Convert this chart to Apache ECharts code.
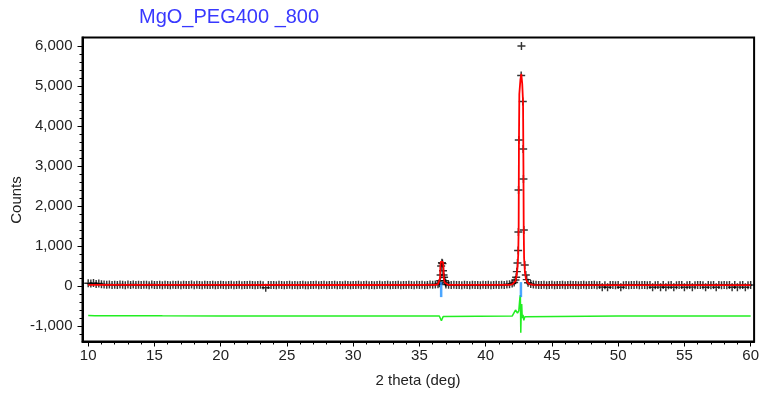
<!DOCTYPE html>
<html><head><meta charset="utf-8">
<script src="https://cdn.jsdelivr.net/npm/echarts@6/dist/echarts.min.js"></script>
<style>html,body{margin:0;padding:0;background:#fff}#c{width:762px;height:393px}</style>
</head><body><div id="c"></div>
<script>
const titleText = 'MgO_PEG400 _800';
const xName = '2 theta (deg)';
const yName = 'Counts';
const xTickLabels = [10, 15, 20, 25, 30, 35, 40, 45, 50, 55, 60];
const xMinorTicks = [11,12,13,14,16,17,18,19,21,22,23,24,26,27,28,29,31,32,33,34,36,37,38,39,41,42,43,44,46,47,48,49,51,52,53,54,56,57,58,59];
const yTickLabels = [-1000, 0, 1000, 2000, 3000, 4000, 5000, 6000];
const yMinorTicks = [-1200,-800,-600,-400,-200,200,400,600,800,1200,1400,1600,1800,2200,2400,2600,2800,3200,3400,3600,3800,4200,4400,4600,4800,5200,5400,5600,5800];

// observed scan (step scan): start angle, step, counts (null = see peak detail)
const scanStart = 10.0;
const scanStep = 0.2;
const obsBaseline = [
  70, 60, 75, 50, 65, 45, 35, 30, 40, 28,
  32, 25, 38, 30, 22, 35, 28, 40, 26, 30,
  24, 34, 30, 20, 36, 28, 25, 32, 22, 30,
  28, 22, 34, 26, 30, 20, 32, 24, 28, 35,
  22, 30, 26, 18, 32, 28, 24, 30, 20, 26,
  30, 24, 18, 28, 34, 22, 26, 30, 20, 28,
  24, 30, 26, 20, 28, 32, 22, -45, 26, 24,
  28, 20, 30, 24, 18, 26, 32, 22, 28, 20,
  26, 30, 22, 18, 28, 24, 30, 20, 26, 32,
  22, 28, 24, 30, 18, 26, 22, 30, 24, 20,
  28, 24, 32, 20, 26, 30, 22, 28, 18, 26,
  30, 22, 26, 34, 20, 28, 24, 30, 22, 26,
  28, 32, 24, 20, 30, 26, 34, 22, 28, 36,
  30, 38, 45, null, null, 40, 32, 26, 30, 24,
  28, 22, 30, 26, 20, 32, 24, 28, 22, 30,
  26, 30, 22, 28, 34, 24, 30, 26, 38, 45,
  60, null, null, null, null, null, 80, 50, 35, 30,
  28, 24, 30, 20, 26, 32, 22, 28, 24, 30,
  20, 26, 30, 24, 28, 18, 26, 32, 22, 28,
  24, 30, 20, 26, -28, 22, -30, 28, 24, 20,
  26, -32, 22, 28, 20, 26, 24, 30, 22, 28,
  24, 20, 28, -30, 22, 26, -28, 24, -30, 20,
  26, -30, 22, 28, 24, -32, 20, 26, -28, 22,
  28, 24, 20, -30, 26, 22, 28, -32, 24, 20,
  26, 22, 28, -30, 24, -28, 20, 26, -32, 22,
  25
];
const obsPeakX = [36.50, 36.56, 36.60, 36.64, 36.70, 36.74, 36.78, 36.82, 36.86, 36.92, 36.98,
  42.15, 42.25, 42.30, 42.35, 42.40, 42.45, 42.47, 42.48, 42.50, 42.68, 42.70, 42.80, 42.83, 42.85, 42.88, 42.95, 43.03, 43.10];
const obsPeakY = [70, 130, 275, 500, 583, 560, 383, 275, 217, 133, 80,
  90, 150, 220, 360, 575, 890, 1350, 2400, 3650, 5260, 6000, 4610, 3425, 2675, 1400, 525, 275, 160];

const calcX = [10.0, 20.0, 30.0, 36.20, 36.40, 36.50, 36.56, 36.58, 36.62, 36.70, 36.78, 36.82, 36.84, 36.90, 37.00, 37.20,
  41.80, 42.00, 42.15, 42.25, 42.33, 42.40, 42.46, 42.49, 42.51, 42.54, 42.62, 42.69, 42.76, 42.82, 42.85, 42.87, 42.90, 42.96, 43.04, 43.14, 43.30, 43.60, 50.0, 60.0];
const calcY = [28, 26, 25, 28, 45, 80, 200, 500, 610, 630, 600, 450, 200, 90, 45, 28,
  30, 40, 60, 120, 250, 450, 800, 1500, 3500, 4800, 5150, 5300, 5050, 4600, 3000, 1500, 700, 350, 180, 90, 45, 28, 24, 23];

const diffX = [10.0, 10.5, 11.1, 12.3, 13.4, 15.6, 20.1, 30.0, 36.50, 36.60, 36.66, 36.72, 36.80, 36.90,
  42.00, 42.15, 42.25, 42.32, 42.40, 42.50, 42.58, 42.62, 42.65, 42.68, 42.72, 42.76, 42.82, 42.88, 42.95, 43.05, 50.0, 60.0];
const diffY = [-740, -745, -742, -745, -744, -746, -748, -750, -750, -780, -870, -820, -760, -750,
  -750, -740, -600, -560, -680, -620, -300, -230, -1170, -700, -450, -800, -720, -860, -770, -750, -752, -752];

const reflX = [36.64, 42.66];
const reflY = [-90, -90];

const obsData = obsBaseline.map((v, i) => [+(scanStart + i * scanStep).toFixed(2), v]).filter(p => p[1] !== null)
  .concat(obsPeakX.map((x, i) => [x, obsPeakY[i]]));
const calcData = calcX.map((x, i) => [x, calcY[i]]);
const diffData = diffX.map((x, i) => [x, diffY[i]]);
const reflData = reflX.map((x, i) => [x, reflY[i]]);

const FONT = '"Liberation Sans", Arial, sans-serif';
const xMin = 9.57, xMax = 60.26, yMin = -1387, yMax = 6212;
const plusPath = 'path://M0,4.1 L10,4.1 L10,5.9 L0,5.9 Z M4.1,0 L5.9,0 L5.9,10 L4.1,10 Z';

const chart = echarts.init(document.getElementById('c'), null, {renderer: 'canvas'});
chart.setOption({
  animation: false,
  backgroundColor: '#fff',
  title: {
    text: titleText, left: 139, top: 7, padding: 0,
    textStyle: {fontFamily: FONT, fontSize: 20, fontWeight: 'normal', color: '#3838ff'}
  },
  grid: {left: 82.5, right: 6.5, top: 37.5, bottom: 51.5, show: true, borderColor: '#000', borderWidth: 2, backgroundColor: 'transparent'},
  xAxis: [{
    type: 'value', min: xMin, max: xMax, position: 'bottom',
    axisLine: {show: true, onZero: false, lineStyle: {color: '#000', width: 2}},
    axisTick: {show: true, customValues: xTickLabels, length: 5, lineStyle: {color: '#000', width: 1}},
    axisLabel: {customValues: xTickLabels, margin: 7, color: '#222', fontFamily: FONT, fontSize: 15},
    splitLine: {show: false}
  }, {
    type: 'value', min: xMin, max: xMax, position: 'bottom',
    axisLine: {show: false, onZero: false},
    axisTick: {show: true, customValues: xMinorTicks, length: 3, lineStyle: {color: '#000', width: 1}},
    axisLabel: {show: false},
    splitLine: {show: false}
  }],
  yAxis: [{
    type: 'value', min: yMin, max: yMax, position: 'left',
    axisLine: {show: true, onZero: false, lineStyle: {color: '#000', width: 2}},
    axisTick: {show: true, customValues: yTickLabels, length: 5, lineStyle: {color: '#000', width: 1}},
    axisLabel: {customValues: yTickLabels, margin: 10, color: '#222', fontFamily: FONT, fontSize: 15,
      formatter: v => Number(v).toLocaleString('en-US')},
    splitLine: {show: false}
  }, {
    type: 'value', min: yMin, max: yMax, position: 'left',
    axisLine: {show: false, onZero: false},
    axisTick: {show: true, customValues: yMinorTicks, length: 3, lineStyle: {color: '#000', width: 1}},
    axisLabel: {show: false},
    splitLine: {show: false}
  }],
  graphic: [
    {type: 'text', x: 17, y: 200, rotation: Math.PI / 2,
      style: {text: yName, fontFamily: FONT, fontSize: 15, fill: '#222', align: 'center', verticalAlign: 'middle'}},
    {type: 'text', x: 418, y: 381,
      style: {text: xName, fontFamily: FONT, fontSize: 15, fill: '#222', align: 'center', verticalAlign: 'middle'}}
  ],
  series: [
    {type: 'scatter', name: 'obs', xAxisIndex: 0, yAxisIndex: 0, data: obsData, symbol: plusPath, symbolSize: 8,
      itemStyle: {color: '#000'}, z: 2, silent: true},
    {type: 'line', name: 'calc', xAxisIndex: 0, yAxisIndex: 0, data: calcData, showSymbol: false, symbol: 'none',
      lineStyle: {color: '#ff0000', width: 1.8}, z: 3, silent: true},
    {type: 'line', name: 'diff', xAxisIndex: 0, yAxisIndex: 0, data: diffData, showSymbol: false, symbol: 'none',
      lineStyle: {color: '#22ee22', width: 1.5}, z: 3, silent: true},
    {type: 'scatter', name: 'refl', xAxisIndex: 0, yAxisIndex: 0, data: reflData, symbol: 'rect', symbolSize: [2.5, 15],
      itemStyle: {color: '#1e90ff'}, z: 4, silent: true}
  ]
});
</script>
</body></html>
